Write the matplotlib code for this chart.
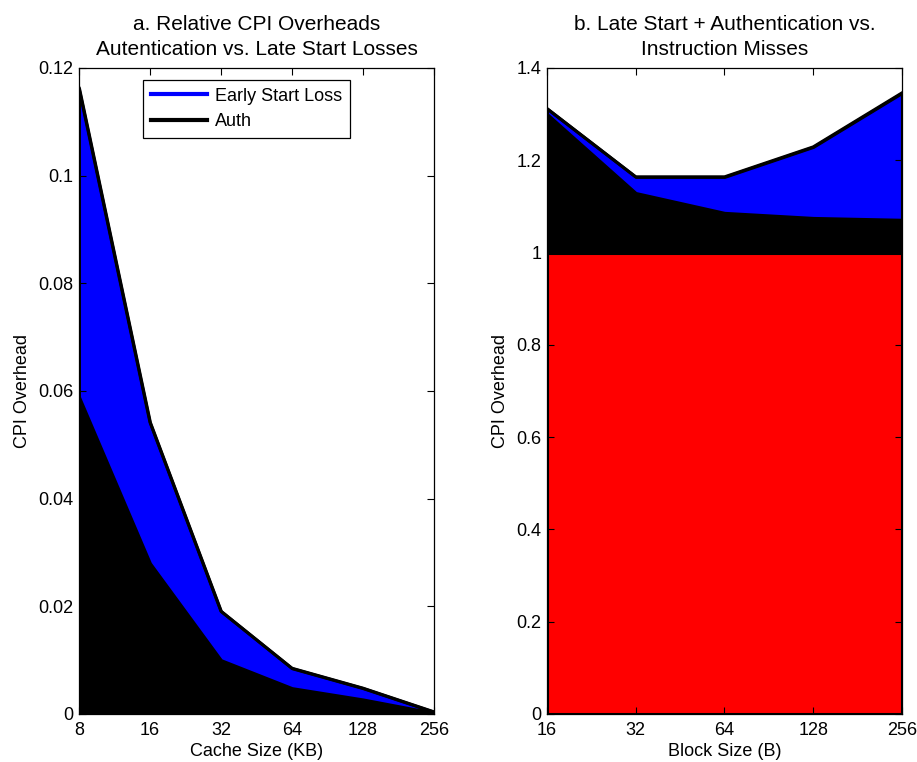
import matplotlib
matplotlib.use("Agg")
import matplotlib.pyplot as plt
from matplotlib.lines import Line2D
import numpy as np

plt.rcParams['font.family'] = ['Liberation Sans', 'DejaVu Sans']

# panel a: cache size sweep
cache_kb = [8, 16, 32, 64, 128, 256]
auth_a = [0.0589, 0.0280, 0.0100, 0.0048, 0.0027, 0.0002]
total_a = [0.1163, 0.0542, 0.0191, 0.0085, 0.0048, 0.0004]

# panel b: block size sweep
block_b = [16, 32, 64, 128, 256]
imiss_b = [1.0, 1.0, 1.0, 1.0, 1.0]
auth_b = [1.300, 1.129, 1.086, 1.075, 1.071]
total_b = [1.312, 1.164, 1.164, 1.229, 1.346]

fig = plt.figure(figsize=(9.17, 7.62), dpi=100)
ax1 = fig.add_axes([0.0861, 0.063, 0.3871, 0.8478])
ax2 = fig.add_axes([0.5965, 0.063, 0.3871, 0.8478])

EW = 2.2
FS = 13

def style(ax, xs, yt, ylim):
    ax.set_xscale('log', base=2)
    ax.set_xlim(xs[0], xs[-1])
    ax.set_ylim(*ylim)
    ax.set_xticks(xs)
    ax.set_xticklabels([str(v) for v in xs])
    ax.minorticks_off()
    ax.set_yticks(yt)
    ax.tick_params(direction='in', top=True, right=True, length=5, width=0.8,
                   labelsize=FS, pad=4)
    ax.tick_params(axis='x', pad=6)
    for s in ax.spines.values():
        s.set_linewidth(0.9)

# panel a
ax1.fill_between(cache_kb, 0, auth_a, facecolor='black', edgecolor='black', linewidth=EW)
ax1.fill_between(cache_kb, auth_a, total_a, facecolor='#0000ff', edgecolor='black', linewidth=EW)
ax1.plot(cache_kb, total_a, color='black', lw=EW)
style(ax1, cache_kb, [0, 0.02, 0.04, 0.06, 0.08, 0.1, 0.12], (0, 0.12))
ax1.set_yticklabels(['0', '0.02', '0.04', '0.06', '0.08', '0.1', '0.12'])
ax1.set_title('a. Relative CPI Overheads\nAutentication vs. Late Start Losses',
              fontsize=15, pad=9, linespacing=1.4)
ax1.set_xlabel('Cache Size (KB)', fontsize=FS, labelpad=3)
ax1.set_ylabel('CPI Overhead', fontsize=FS, labelpad=5)
handles = [Line2D([0], [0], color='#0000ff', lw=3),
           Line2D([0], [0], color='black', lw=3)]
leg = ax1.legend(handles, ['Early Start Loss', 'Auth'], loc='upper left',
                 bbox_to_anchor=(0.18, 0.982), fontsize=FS, fancybox=False,
                 edgecolor='black', framealpha=1, handlelength=3.1,
                 handletextpad=0.45, borderpad=0.45, labelspacing=0.45,
                 borderaxespad=0)
leg.get_frame().set_linewidth(0.9)

# panel b
ax2.fill_between(block_b, 0, imiss_b, facecolor='#ff0000', edgecolor='black', linewidth=EW)
ax2.fill_between(block_b, imiss_b, auth_b, facecolor='black', edgecolor='black', linewidth=EW)
ax2.fill_between(block_b, auth_b, total_b, facecolor='#0000ff', edgecolor='black', linewidth=EW)
ax2.plot(block_b, total_b, color='black', lw=EW)
style(ax2, block_b, [0, 0.2, 0.4, 0.6, 0.8, 1.0, 1.2, 1.4], (0, 1.4))
ax2.set_yticklabels(['0', '0.2', '0.4', '0.6', '0.8', '1', '1.2', '1.4'])
ax2.set_title('b. Late Start + Authentication vs.\nInstruction Misses',
              fontsize=15, pad=9, linespacing=1.4)
ax2.set_xlabel('Block Size (B)', fontsize=FS, labelpad=3)
ax2.set_ylabel('CPI Overhead', fontsize=FS, labelpad=5)

fig.savefig('out.png', dpi=100)
